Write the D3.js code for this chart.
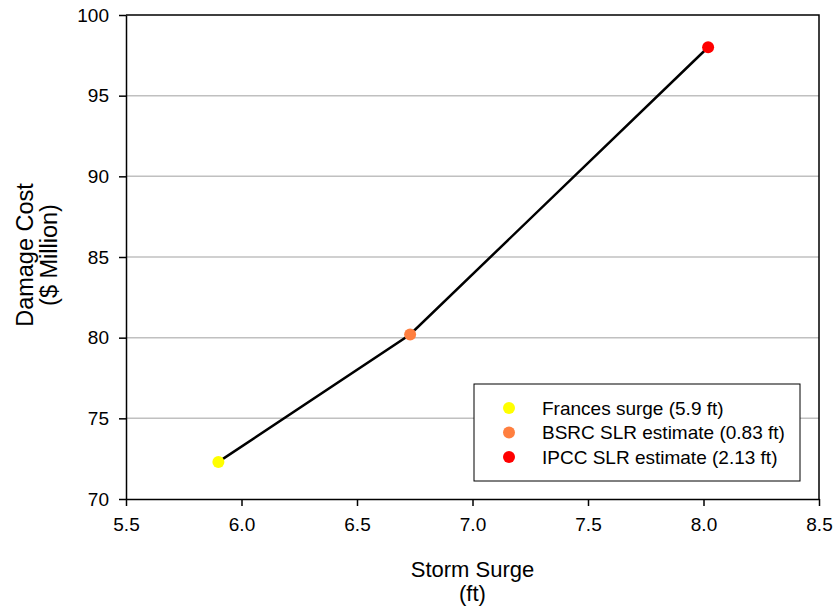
<!DOCTYPE html>
<html>
<head>
<meta charset="utf-8">
<script src="https://cdn.jsdelivr.net/npm/d3@7"></script>
<style>
  body { margin: 0; background: #fff; }
  text { font-family: "Liberation Sans", Arial, sans-serif; fill: #000; }
</style>
</head>
<body>
<div id="viz"></div>
<script>
const width = 833;
const height = 609;
const margin = {top: 15, right: 14, bottom: 110, left: 126};

// data
const labels = ['Frances surge (5.9 ft)', 'BSRC SLR estimate (0.83 ft)', 'IPCC SLR estimate (2.13 ft)'];
const surge = [5.9, 6.73, 8.02];
const cost = [72.3, 80.2, 98.0];
const colors = ['#ffff00', '#ff7f3f', '#ff0000'];
const xTicks = [5.5, 6.0, 6.5, 7.0, 7.5, 8.0, 8.5];
const yTicks = [70, 75, 80, 85, 90, 95, 100];

const points = surge.map((s, i) => ({x: s, y: cost[i], label: labels[i], color: colors[i]}));

const x = d3.scaleLinear()
  .domain([5.5, 8.5])
  .range([margin.left, width - margin.right]);

const y = d3.scaleLinear()
  .domain([70, 100])
  .range([height - margin.bottom, margin.top]);

const svg = d3.select('#viz')
  .append('svg')
    .attr('width', width)
    .attr('height', height);

// grid lines
svg.append('g')
  .selectAll('line')
  .data(yTicks.filter(t => t > 70 && t < 100))
  .join('line')
    .attr('x1', x(5.5))
    .attr('x2', x(8.5))
    .attr('y1', d => y(d))
    .attr('y2', d => y(d))
    .attr('stroke', '#c0c0c0')
    .attr('stroke-width', 1.5);

// plot border top / right
svg.append('path')
  .attr('d', `M${x(5.5)},${y(100)}H${x(8.5)}V${y(70)}`)
  .attr('fill', 'none')
  .attr('stroke', '#000')
  .attr('stroke-width', 1.5);

const xAxis = svg.append('g')
  .attr('transform', `translate(0,${y(70)})`)
  .call(d3.axisBottom(x).tickValues(xTicks).tickFormat(d3.format('.1f')).tickSize(7).tickSizeOuter(0));

const yAxis = svg.append('g')
  .attr('transform', `translate(${x(5.5)},0)`)
  .call(d3.axisLeft(y).tickValues(yTicks).tickSize(7).tickSizeOuter(0));

[xAxis, yAxis].forEach(a => {
  a.attr('font-size', null).attr('font-family', null);
  a.selectAll('path, line').attr('stroke', '#000').attr('stroke-width', 1.5);
  a.selectAll('text').attr('fill', '#000').style('font-size', '19px');
});
xAxis.selectAll('text').attr('y', 15).attr('dy', '0.9em');
yAxis.selectAll('text').attr('x', -17);

// axis titles
const cx = (x(5.5) + x(8.5)) / 2;
svg.append('text')
  .attr('x', cx)
  .attr('y', 577)
  .attr('text-anchor', 'middle')
  .style('font-size', '22px')
  .text('Storm Surge');
svg.append('text')
  .attr('x', cx)
  .attr('y', 601)
  .attr('text-anchor', 'middle')
  .style('font-size', '22px')
  .text('(ft)');

const yTitle = svg.append('g')
  .attr('transform', `translate(0,255) rotate(-90)`);
yTitle.append('text')
  .attr('x', 0).attr('y', 33)
  .attr('text-anchor', 'middle')
  .style('font-size', '23.5px')
  .text('Damage Cost');
yTitle.append('text')
  .attr('x', 0).attr('y', 57)
  .attr('text-anchor', 'middle')
  .style('font-size', '23.5px')
  .text('($ Million)');

// line + markers
const line = d3.line()
  .x(d => x(d.x))
  .y(d => y(d.y));

svg.append('path')
  .attr('d', line(points))
  .attr('fill', 'none')
  .attr('stroke', '#000')
  .attr('stroke-width', 2.5);

svg.append('g')
  .selectAll('circle')
  .data(points)
  .join('circle')
    .attr('cx', d => x(d.x))
    .attr('cy', d => y(d.y))
    .attr('r', 6)
    .attr('fill', d => d.color);

// legend
const legend = svg.append('g')
  .attr('transform', 'translate(474,384)');

legend.append('rect')
  .attr('width', 326)
  .attr('height', 97)
  .attr('fill', '#fff')
  .attr('stroke', '#000')
  .attr('stroke-width', 1);

const item = legend.selectAll('.item')
  .data(points)
  .join('g')
    .attr('class', 'item')
    .attr('transform', (d, i) => `translate(0,${24 + i * 24.5})`);

item.append('circle')
  .attr('cx', 35)
  .attr('cy', 0)
  .attr('r', 6)
  .attr('fill', d => d.color);

item.append('text')
  .attr('x', 68)
  .attr('y', 0)
  .attr('dy', '0.35em')
  .style('font-size', '19px')
  .text(d => d.label);
</script>
</body>
</html>
